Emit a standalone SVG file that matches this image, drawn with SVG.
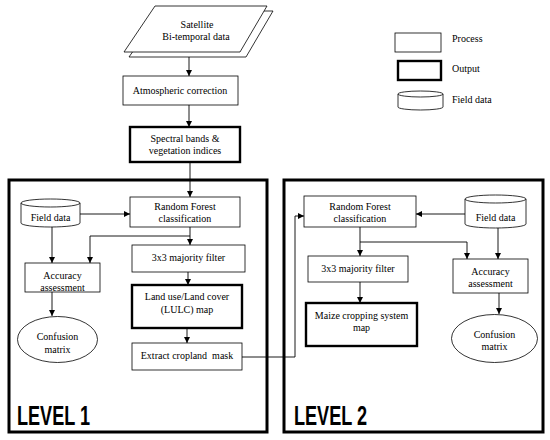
<svg xmlns="http://www.w3.org/2000/svg" width="550" height="440" viewBox="0 0 550 440">
<defs>
<marker id="arr" viewBox="0 0 10 10" refX="10" refY="5" markerWidth="6" markerHeight="6" markerUnits="userSpaceOnUse" orient="auto"><path d="M0,0 L10,5 L0,10 Z" fill="#000"/></marker>
<style>
text{font-family:'Liberation Serif','DejaVu Serif',serif}
.t{font-size:10px;fill:#000;text-anchor:middle}
.tl{font-size:10px;fill:#000}
.p{fill:#fff;stroke:#000;stroke-width:0.8}
.o{fill:#fff;stroke:#000;stroke-width:2.4}
.lv{fill:none;stroke:#000;stroke-width:3}
.c{fill:none;stroke:#000;stroke-width:0.9}
text.big{font-family:'Liberation Sans',Arial,sans-serif;font-weight:bold;font-size:27px;fill:#000}
</style>
</defs>
<rect width="550" height="440" fill="#fff"/>

<g id="level1"><rect class="lv" x="9" y="180" width="258" height="252"/><text class="big" x="17" y="425" textLength="73" lengthAdjust="spacingAndGlyphs">LEVEL 1</text></g>
<g id="level2"><rect class="lv" x="284" y="180" width="259" height="252"/><text class="big" x="294" y="425" textLength="73" lengthAdjust="spacingAndGlyphs">LEVEL 2</text></g>

<g id="satellite">
<path class="p" d="M161,11 L273,11 L246,57 L129,57 Z"/>
<path class="p" d="M155,6 L267,6 L240,52 L124,52 Z"/>
<text class="t" x="197" y="28">Satellite</text>
<text class="t" x="196" y="40">Bi-temporal data</text>
</g>

<g id="atmospheric"><rect class="p" x="123" y="76" width="115" height="29"/><text class="t" x="180" y="94">Atmospheric correction</text></g>
<g id="spectral"><rect class="o" x="130" y="127" width="110" height="35"/><text class="t" x="185" y="142">Spectral bands &amp;</text><text class="t" x="185" y="154">vegetation indices</text></g>

<g id="legend">
<rect class="p" x="395" y="33" width="46" height="19"/><text class="tl" x="452" y="42">Process</text>
<rect class="o" x="398" y="61" width="43" height="19"/><text class="tl" x="452" y="72">Output</text>
<path class="p" d="M398,94 A22.5,3 0 0 1 443,94 V107 A22.5,3 0 0 1 398,107 Z M398,94 A22.5,3 0 0 0 443,94"/><text class="tl" x="452" y="103">Field data</text>
</g>

<g id="field1"><path class="p" d="M21,203 A29.5,4 0 0 1 80,203 V223 A29.5,4 0 0 1 21,223 Z M21,203 A29.5,4 0 0 0 80,203"/><text class="t" x="50.5" y="221">Field data</text></g>
<g id="rf1"><rect class="p" x="130" y="197" width="110" height="30"/><text class="t" x="185" y="210">Random Forest</text><text class="t" x="185" y="222">classification</text></g>
<g id="acc1"><rect class="p" x="25" y="263" width="75" height="29"/><text class="t" x="62.5" y="279">Accuracy</text><text class="t" x="62.5" y="291">assessment</text></g>
<g id="maj1"><rect class="p" x="132" y="245" width="113" height="27"/><text class="t" x="188.5" y="261">3x3 majority filter</text></g>
<g id="lulc"><rect class="o" x="132" y="285" width="110" height="43"/><text class="t" x="187" y="300">Land use/Land cover</text><text class="t" x="187" y="313">(LULC) map</text></g>
<g id="conf1"><ellipse class="p" cx="57.5" cy="339.5" rx="40" ry="23"/><text class="t" x="57.5" y="340">Confusion</text><text class="t" x="57.5" y="353">matrix</text></g>
<g id="extract"><rect class="p" x="132" y="343" width="110" height="27"/><text class="t" x="187" y="359" xml:space="preserve">Extract cropland  mask</text></g>

<g id="rf2"><rect class="p" x="304" y="196" width="112" height="31"/><text class="t" x="360" y="210">Random Forest</text><text class="t" x="360" y="222">classification</text></g>
<g id="field2"><path class="p" d="M465,199 A30.5,4 0 0 1 526,199 V224 A30.5,4 0 0 1 465,224 Z M465,199 A30.5,4 0 0 0 526,199"/><text class="t" x="495.5" y="221">Field data</text></g>
<g id="maj2"><rect class="p" x="308" y="256" width="100" height="26"/><text class="t" x="358" y="272">3x3 majority filter</text></g>
<g id="acc2"><rect class="p" x="453" y="259" width="75" height="34"/><text class="t" x="490.5" y="275">Accuracy</text><text class="t" x="490.5" y="287">assessment</text></g>
<g id="maize"><rect class="o" x="306" y="303" width="111" height="43"/><text class="t" x="361.5" y="319">Maize cropping system</text><text class="t" x="361.5" y="331">map</text></g>
<g id="conf2"><ellipse class="p" cx="494.5" cy="338.5" rx="43" ry="24"/><text class="t" x="494.5" y="338">Confusion</text><text class="t" x="494.5" y="350">matrix</text></g>

<g id="connectors">
<path class="c" d="M189,57 V76" marker-end="url(#arr)"/>
<path class="c" d="M189,105 V127" marker-end="url(#arr)"/>
<path class="c" d="M190,162 V197" marker-end="url(#arr)"/>
<path class="c" d="M80,214 H130" marker-end="url(#arr)"/>
<path class="c" d="M190,227 V245" marker-end="url(#arr)"/>
<path class="c" d="M190,236 H90 V263" marker-end="url(#arr)"/>
<path class="c" d="M52,227 V263" marker-end="url(#arr)"/>
<path class="c" d="M188,272 V285" marker-end="url(#arr)"/>
<path class="c" d="M52,292 V316" marker-end="url(#arr)"/>
<path class="c" d="M187,328 V343" marker-end="url(#arr)"/>
<path class="c" d="M242,357 H295 V216 H304" marker-end="url(#arr)"/>
<path class="c" d="M465,214 H416" marker-end="url(#arr)"/>
<path class="c" d="M360,227 V256" marker-end="url(#arr)"/>
<path class="c" d="M360,242 H467 V259" marker-end="url(#arr)"/>
<path class="c" d="M498,228 V259" marker-end="url(#arr)"/>
<path class="c" d="M360,282 V303" marker-end="url(#arr)"/>
<path class="c" d="M499,293 V314" marker-end="url(#arr)"/>
</g>
</svg>
